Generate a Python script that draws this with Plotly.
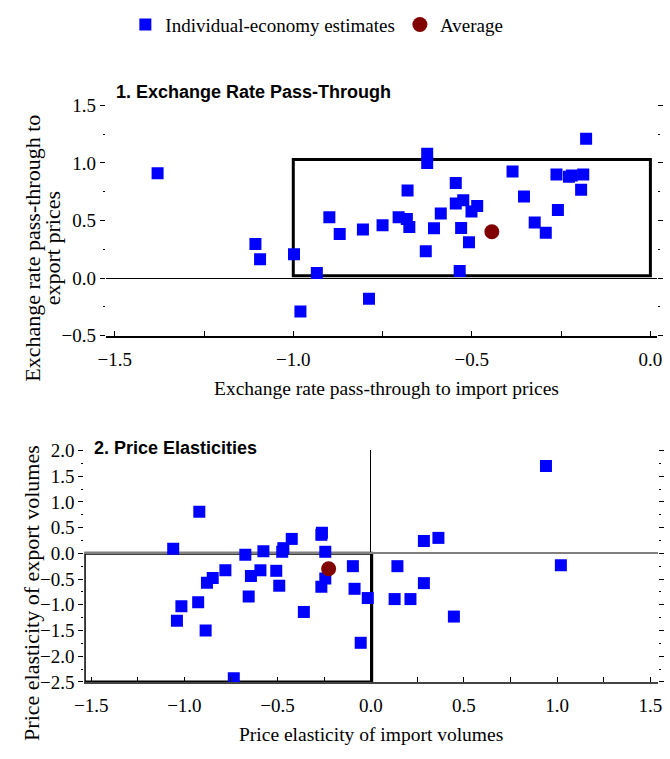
import plotly.graph_objects as go

# Panel 1: exchange rate pass-through (import, export)
erpt_import = [-1.38, -0.625, -0.625, -0.18, -0.68, -0.545, -0.386, -0.263, -0.228, -0.22,
               -0.188, -0.194, -0.354, -0.259, -0.545, -0.524, -0.485, -0.501, -0.587, -0.899,
               -0.705, -0.682, -0.675, -0.606, -0.53, -0.324, -0.75, -0.805, -0.87, -0.293,
               -0.508, -0.629, -1.106, -1.093, -0.998, -0.934, -0.534, -0.788, -0.98]
erpt_export = [0.91, 1.08, 1.00, 1.21, 0.76, 0.825, 0.925, 0.90, 0.88, 0.89,
               0.90, 0.767, 0.708, 0.592, 0.647, 0.675, 0.625, 0.578, 0.561, 0.528,
               0.528, 0.514, 0.444, 0.433, 0.436, 0.483, 0.458, 0.422, 0.383, 0.394,
               0.311, 0.233, 0.297, 0.164, 0.208, 0.044, 0.061, -0.178, -0.289]
erpt_avg_import = [-0.444]
erpt_avg_export = [0.403]

# Panel 2: price elasticities (import, export)
elas_import = [0.94, -0.92, -1.06, -0.265, -0.262, -0.424, -0.469, -0.475, -0.576, -0.673,
               -0.244, 0.285, 0.363, 0.143, 1.02, -0.096, -0.78, -0.592, -0.507, -0.643,
               -0.848, -0.879, -0.244, 0.285, -0.491, -0.265, -0.087, -0.655, -0.016, 0.128,
               0.213, -1.016, -0.926, -0.359, -1.04, -0.886, 0.446, -0.054, -0.735]
elas_export = [1.70, 0.81, 0.09, 0.36, 0.40, 0.28, 0.10, 0.03, 0.04, -0.03,
               0.03, 0.24, 0.30, -0.25, -0.23, -0.25, -0.33, -0.33, -0.34, -0.44,
               -0.48, -0.57, -0.49, -0.58, -0.63, -0.65, -0.69, -0.84, -0.87, -0.89,
               -0.89, -1.03, -0.95, -1.14, -1.31, -1.50, -1.23, -1.74, -2.43]
elas_avg_import = [-0.226]
elas_avg_export = [-0.30]

legend_names = ["Individual-economy estimates", "Average"]
panel_titles = ["1. Exchange Rate Pass-Through", "2. Price Elasticities"]
x_titles = ["Exchange rate pass-through to import prices", "Price elasticity of import volumes"]
y_titles = [["Exchange rate pass-through to", "export prices"], ["Price elasticity of export volumes"]]

BLUE = "#0000FF"
RED = "#800000"
SERIF = "Liberation Serif, Times New Roman, serif"
SANS = "Liberation Sans Narrow, Liberation Sans, Arial"
W, H = 670, 759

def px(x):
    return x / W

def py(y):
    return 1 - y / H

fig = go.Figure()
sq = dict(symbol="square", size=12, color=BLUE)
dot = dict(symbol="circle", size=15, color=RED)

fig.add_trace(go.Scatter(x=erpt_import, y=erpt_export, mode="markers", marker=sq,
                         name=legend_names[0], xaxis="x", yaxis="y"))
fig.add_trace(go.Scatter(x=erpt_avg_import, y=erpt_avg_export, mode="markers", marker=dot,
                         name=legend_names[1], xaxis="x", yaxis="y"))
fig.add_trace(go.Scatter(x=elas_import, y=elas_export, mode="markers", marker=sq,
                         name=legend_names[0], showlegend=False, xaxis="x2", yaxis="y2"))
fig.add_trace(go.Scatter(x=elas_avg_import, y=elas_avg_export, mode="markers", marker=dot,
                         name=legend_names[1], showlegend=False, xaxis="x2", yaxis="y2"))

tickfont = dict(family=SERIF, size=19, color="black")

xcommon = dict(showgrid=False, ticks="inside", ticklen=5, tickcolor="black", tickwidth=1,
               tickfont=tickfont, showline=True, linecolor="black", linewidth=1.5,
               tickformat=".1f", dtick=0.5, ticklabelstandoff=6,
               minor=dict(dtick=0.25, ticks="inside", ticklen=5, tickcolor="black"),
               zeroline=False)
ycommon = dict(showgrid=False, ticks="outside", ticklen=5, tickcolor="black", tickwidth=1,
               tickfont=tickfont, showline=False, mirror="ticks", tickformat=".1f", dtick=0.5,
               minor=dict(dtick=0.25, ticks="outside", ticklen=2, tickcolor="black"))

fig.update_layout(
    width=W, height=H,
    margin=dict(l=0, r=0, t=0, b=0),
    paper_bgcolor="white", plot_bgcolor="white",
    font=dict(family=SERIF, size=19, color="black"),
    legend=dict(orientation="h", x=px(118), xanchor="left", y=py(15), yanchor="middle",
                font=dict(family=SERIF, size=19, color="black"), itemsizing="trace"),
    xaxis=dict(xcommon, domain=[px(98), px(662)], range=[-1.525, 0.019], anchor="y"),
    yaxis=dict(ycommon, domain=[py(335), py(98)], range=[-0.5, 1.5], anchor="x",
               zeroline=True, zerolinecolor="black", zerolinewidth=1),
    xaxis2=dict(xcommon, domain=[px(76), px(663)], range=[-1.537, 1.542], anchor="y2",
                linecolor="#444", zeroline=True, zerolinecolor="black", zerolinewidth=1),
    yaxis2=dict(ycommon, domain=[py(691), py(453)], range=[-2.5, 2.0], anchor="x2",
                zeroline=True, zerolinecolor="#808080", zerolinewidth=1.5),
)

# Highlight boxes
fig.add_shape(type="rect", xref="x", yref="y", x0=-1.0, x1=0.0, y0=0.02, y1=1.03,
              line=dict(color="black", width=3), layer="below")
fig.add_shape(type="rect", xref="x2", yref="y2", x0=-1.537, x1=0.005, y0=-2.5, y1=0.0,
              line=dict(color="black", width=3), layer="below")

# Panel titles
fig.add_annotation(text="<b>" + panel_titles[0] + "</b>", xref="paper", yref="paper",
                   x=px(106), y=py(84), xanchor="left", yanchor="middle", showarrow=False,
                   font=dict(family=SANS, size=18, color="black"))
fig.add_annotation(text="<b>" + panel_titles[1] + "</b>", xref="paper", yref="paper",
                   x=px(84), y=py(450), xanchor="left", yanchor="middle", showarrow=False,
                   font=dict(family=SANS, size=18, color="black"))

# Axis titles
fig.add_annotation(text=x_titles[0], xref="paper", yref="paper",
                   x=px(385), y=py(389), xanchor="center", yanchor="middle", showarrow=False,
                   font=dict(family=SERIF, size=19.5))
fig.add_annotation(text=x_titles[1], xref="paper", yref="paper",
                   x=px(369), y=py(745), xanchor="center", yanchor="middle", showarrow=False,
                   font=dict(family=SERIF, size=19.5))
fig.add_annotation(text=y_titles[0][0], xref="paper", yref="paper", x=px(23), y=py(245),
                   xanchor="center", yanchor="middle", textangle=-90, showarrow=False,
                   font=dict(family=SERIF, size=22))
fig.add_annotation(text=y_titles[0][1], xref="paper", yref="paper", x=px(43), y=py(245),
                   xanchor="center", yanchor="middle", textangle=-90, showarrow=False,
                   font=dict(family=SERIF, size=22))
fig.add_annotation(text=y_titles[1][0], xref="paper", yref="paper", x=px(22), y=py(600),
                   xanchor="center", yanchor="middle", textangle=-90, showarrow=False,
                   font=dict(family=SERIF, size=22))

fig.write_html("out.html", config={"displayModeBar": False},
               post_script="document.body.style.margin='0';document.body.style.overflow='hidden';")
